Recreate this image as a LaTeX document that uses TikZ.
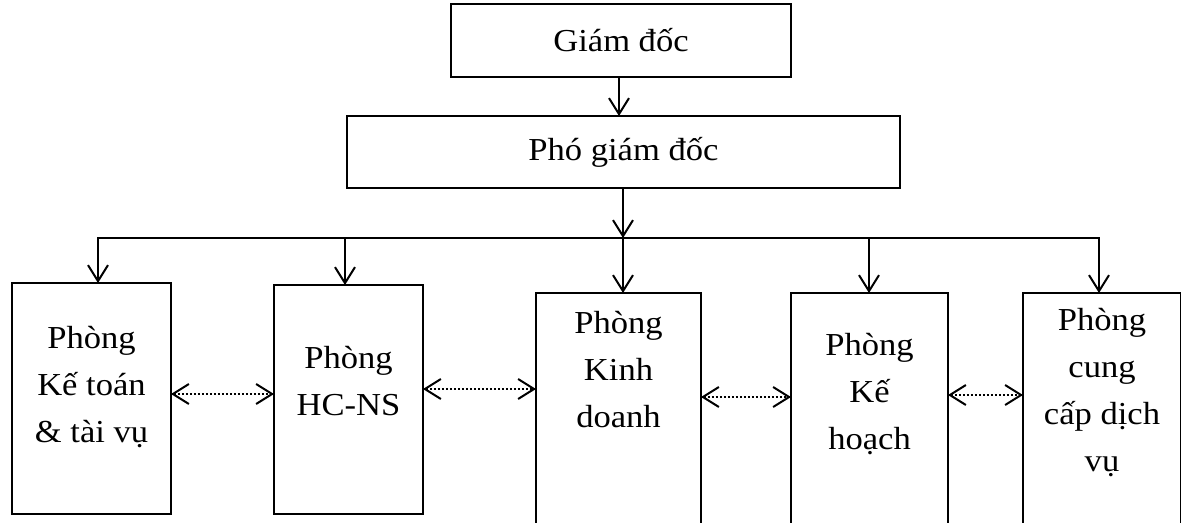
\documentclass[tikz,border=0pt]{standalone}
\usepackage{fontspec}
\setmainfont[FakeStretch=1.08]{Liberation Serif}
\usetikzlibrary{arrows.meta}
\begin{document}
\begin{tikzpicture}[x=0.75pt,y=-0.75pt,line width=1.5pt,
  box/.style={draw,inner sep=0pt,outer sep=0pt,align=center,font=\fontsize{24}{35.25}\selectfont},
  lbl/.style={inner sep=0pt,align=center,font=\fontsize{24}{35.25}\selectfont},
  arr/.style={-{Straight Barb[length=12pt,width=15pt]}},
  barr/.style={{Straight Barb[length=12pt,width=15pt]}-{Straight Barb[length=12pt,width=15pt]}},
  darr/.style={{Straight Barb[length=12pt,width=15pt,line width=1.5pt]}-{Straight Barb[length=12pt,width=15pt,line width=1.5pt]},line width=2pt,dash pattern=on 1.6pt off 1.4pt}]
\clip (0,0) rectangle (1181,522);
\useasboundingbox (0,0) rectangle (1181,522);
% top boxes
\node[box,minimum width=0.75*340pt,minimum height=0.75*73pt] (gd) at (621,40.5) {Giám đốc};
\node[box,minimum width=0.75*553pt,minimum height=0.75*72pt] (pgd) at (623.5,152) {Phó giám đốc};
% department boxes
\node[box,minimum width=0.75*159pt,minimum height=0.75*231pt] (b1) at (91.5,398.5) {};
\node[box,minimum width=0.75*149pt,minimum height=0.75*229pt] (b2) at (348.5,399.5) {};
\node[box,minimum width=0.75*165pt,minimum height=0.75*247pt] (b3) at (618.5,416.5) {};
\node[box,minimum width=0.75*157pt,minimum height=0.75*247pt] (b4) at (869.5,416.5) {};
\node[box,minimum width=0.75*158pt,minimum height=0.75*247pt] (b5) at (1102,416.5) {};
% texts
\node[lbl] (t1) at (91.5,387) {Phòng\\Kế toán\\\& tài vụ};
\node[lbl] (t2) at (348.5,381) {Phòng\\HC-NS};
\node[lbl] (t3) at (618.5,370) {Phòng\\Kinh\\doanh};
\node[lbl] (t4) at (869.5,394.5) {Phòng\\Kế\\hoạch};
\node[lbl] (t5) at (1102,392.5) {Phòng\\cung\\cấp dịch\\vụ};
% bus coordinates
\coordinate (bl) at (98,238);
\coordinate (br) at (1099,238);
\coordinate (d2) at (345,238);
\coordinate (d3) at (623,238);
\coordinate (d4) at (869,238);
% connectors
\draw[arr] (gd.south -| 619,0) -- (pgd.north -| 619,0);
\draw[arr] (pgd.south -| d3) -- (d3);
\draw[barr] (bl |- b1.north) -- (bl) -- (br) -- (br |- b5.north);
\draw[arr] (d2) -- (d2 |- b2.north);
\draw[arr] (d3) -- (d3 |- b3.north);
\draw[arr] (d4) -- (d4 |- b4.north);
% dotted double arrows
\draw[darr] (b1.east |- 0,394) -- (b2.west |- 0,394);
\draw[darr] (b2.east |- 0,389) -- (b3.west |- 0,389);
\draw[darr] (b3.east |- 0,397) -- (b4.west |- 0,397);
\draw[darr] (b4.east |- 0,395) -- (b5.west |- 0,395);
\end{tikzpicture}
\end{document}
